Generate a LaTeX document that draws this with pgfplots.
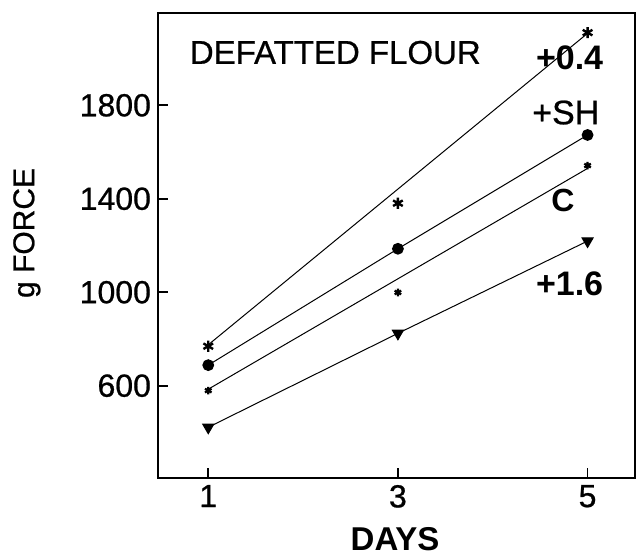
\documentclass[border=0pt]{standalone}
\usepackage{pgfplots}
\pgfplotsset{compat=1.18}
\usepackage{fontspec}
\setmainfont{Liberation Sans}
\newfontfamily\medfont[FakeBold=0.7]{Liberation Sans}

\begin{document}
\begin{tikzpicture}
  \begin{axis}[
    scale only axis,
    width=238.5pt, height=232.5pt,
    xmin=0.47, xmax=5.5,
    ymin=205, ymax=2195,
    xtick={1,3,5},
    ytick={600,1000,1400,1800},
    tick pos=left,
    tick align=inside,
    major tick length=5pt,
    axis line style={line width=1pt},
    every tick/.style={line width=0.9pt, black},
    /pgf/number format/assume math mode=true,
    /pgf/number format/1000 sep={},
    ticklabel style={font=\medfont\fontsize{16}{19}\selectfont},
    xlabel={\textbf{DAYS}},
    xlabel style={font=\fontsize{16.5}{19}\selectfont, at={(axis description cs:0.497,-0.131)}, anchor=center},
    ylabel={g FORCE},
    ylabel style={font=\medfont\fontsize{15}{18}\selectfont, at={(axis description cs:-0.275,0.527)}, anchor=center},
    clip=false,
  ]
    % fit line for +0.4 and its points
    \addplot[black, line width=0.5pt] coordinates {(1,775) (5,2108)};
    \addplot[only marks, mark=asterisk, mark size=2.8pt, line width=1.2pt] coordinates {
      (1,769) (3,1381) (5,2111)
    };
    % +SH
    \addplot[black, line width=0.5pt, mark=*, mark size=2.7pt] coordinates {
      (1,688) (3,1186) (5,1673)
    };
    % C: fit line and points
    \addplot[black, line width=0.5pt] coordinates {(1,585) (5,1530)};
    \addplot[only marks, mark=asterisk, mark size=1.9pt, line width=1.1pt] coordinates {
      (1,579) (3,999) (5,1542)
    };
    % +1.6
    \addplot[black, line width=0.5pt, mark=triangle*, mark size=3.2pt,
      mark options={rotate=180}] coordinates {
      (1,422) (3,824) (5,1219)
    };

    \node[font=\medfont\fontsize{16.5}{19}\selectfont] at (axis cs:2.34,2026) {DEFATTED FLOUR};
    \node[font=\bfseries\fontsize{17}{20}\selectfont] at (axis cs:4.81,2004) {+0.4};
    \node[font=\medfont\fontsize{17}{20}\selectfont] at (axis cs:4.77,1769) {+SH};
    \node[font=\bfseries\fontsize{16}{19}\selectfont] at (axis cs:4.74,1392) {C};
    \node[font=\bfseries\fontsize{17}{20}\selectfont] at (axis cs:4.81,1034) {+1.6};
  \end{axis}
  \path ([xshift=-79pt,yshift=-37pt]current axis.south west)
    rectangle ([xshift=1.5pt,yshift=6.5pt]current axis.north east);
\end{tikzpicture}
\end{document}
